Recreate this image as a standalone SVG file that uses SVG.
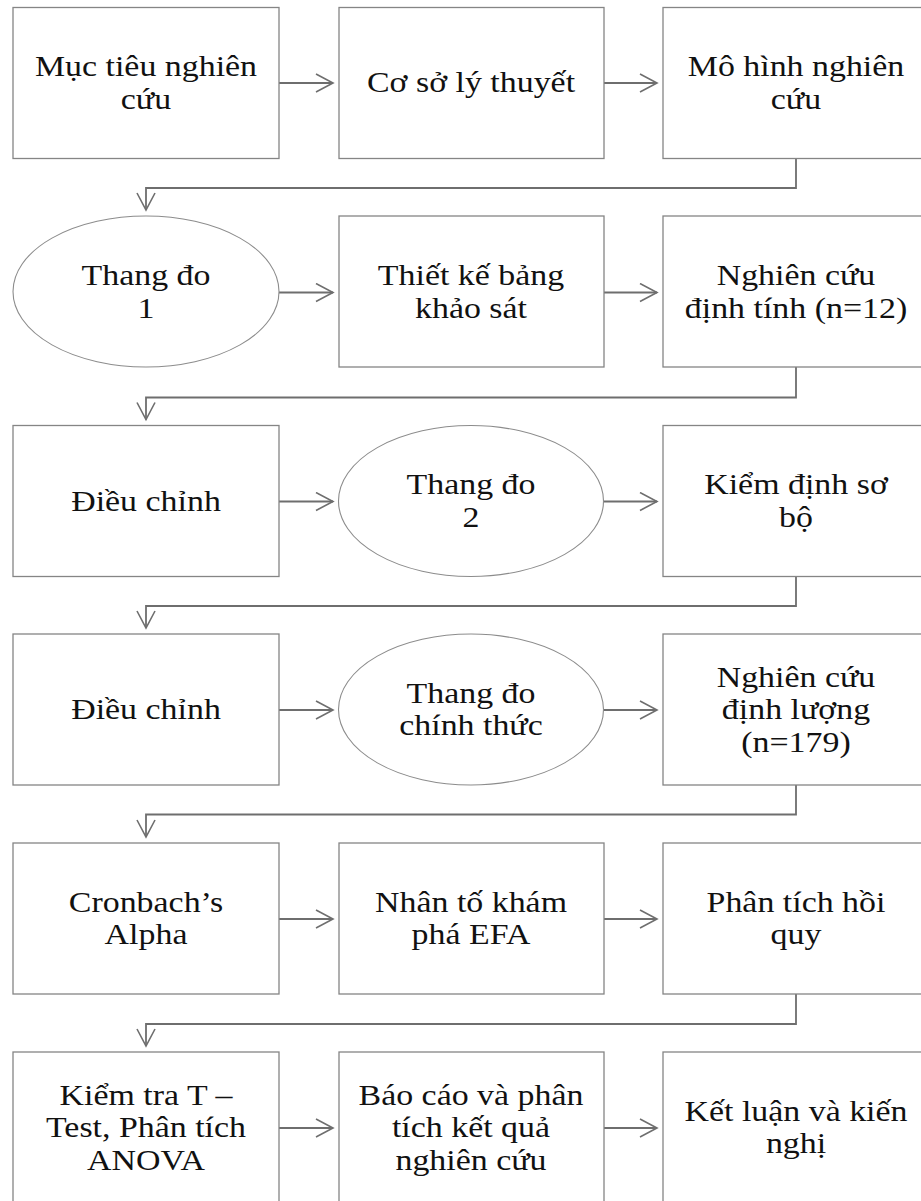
<svg xmlns="http://www.w3.org/2000/svg" width="921" height="1201" viewBox="0 0 921 1201">
  <style>
    .box { fill: #ffffff; stroke: #858585; stroke-width: 1.3; }
    .oval { fill: #ffffff; stroke: #8c8c8c; stroke-width: 1.1; }
    .lbl { font-family: "Liberation Serif", "Times New Roman", serif; font-size: 30px; fill: #111111; text-anchor: middle; }
    .wire { fill: none; stroke: #6e6e6e; stroke-width: 1.8; }
  </style>
  <defs>
    <marker id="chev" viewBox="0 0 20 20" refX="18" refY="10" markerWidth="20" markerHeight="20" markerUnits="userSpaceOnUse" orient="auto">
      <path d="M1 1 L18 10 L1 19" fill="none" stroke="#6e6e6e" stroke-width="1.6"/>
    </marker>
  </defs>
  <rect width="921" height="1201" fill="#ffffff"/>

  <!-- connectors -->
  <g id="connectors">
    <!-- row 1 -->
    <line class="wire" x1="279" y1="83" x2="333" y2="83" marker-end="url(#chev)"/>
    <line class="wire" x1="604" y1="83" x2="657" y2="83" marker-end="url(#chev)"/>
    <path class="wire" d="M796 158.5 V188 H146 V210" marker-end="url(#chev)"/>
    <!-- row 2 -->
    <line class="wire" x1="279" y1="292.5" x2="333" y2="292.5" marker-end="url(#chev)"/>
    <line class="wire" x1="604" y1="292.5" x2="657" y2="292.5" marker-end="url(#chev)"/>
    <path class="wire" d="M796 367 V397.5 H146 V419.5" marker-end="url(#chev)"/>
    <!-- row 3 -->
    <line class="wire" x1="279" y1="501.5" x2="333" y2="501.5" marker-end="url(#chev)"/>
    <line class="wire" x1="604" y1="501.5" x2="657" y2="501.5" marker-end="url(#chev)"/>
    <path class="wire" d="M796 576.5 V606 H146 V628" marker-end="url(#chev)"/>
    <!-- row 4 -->
    <line class="wire" x1="279" y1="710" x2="333" y2="710" marker-end="url(#chev)"/>
    <line class="wire" x1="604" y1="710" x2="657" y2="710" marker-end="url(#chev)"/>
    <path class="wire" d="M796 785 V814.5 H146 V837" marker-end="url(#chev)"/>
    <!-- row 5 -->
    <line class="wire" x1="279" y1="919" x2="333" y2="919" marker-end="url(#chev)"/>
    <line class="wire" x1="604" y1="919" x2="657" y2="919" marker-end="url(#chev)"/>
    <path class="wire" d="M796 994 V1024 H146 V1046" marker-end="url(#chev)"/>
    <!-- row 6 -->
    <line class="wire" x1="279" y1="1128" x2="333" y2="1128" marker-end="url(#chev)"/>
    <line class="wire" x1="604" y1="1128" x2="657" y2="1128" marker-end="url(#chev)"/>
  </g>

  <!-- row 1 -->
  <g id="muc-tieu">
    <rect class="box" x="13" y="7.5" width="266" height="151"/>
    <text class="lbl" transform="translate(146 0) scale(1.13 1)"><tspan x="0" y="76.5">Mục tiêu nghiên</tspan><tspan x="0" y="109">cứu</tspan></text>
  </g>
  <g id="co-so">
    <rect class="box" x="339" y="7.5" width="265" height="151"/>
    <text class="lbl" transform="translate(471 0) scale(1.13 1)"><tspan x="0" y="92.5">Cơ sở lý thuyết</tspan></text>
  </g>
  <g id="mo-hinh">
    <rect class="box" x="663" y="7.5" width="266" height="151"/>
    <text class="lbl" transform="translate(796 0) scale(1.13 1)"><tspan x="0" y="76.5">Mô hình nghiên</tspan><tspan x="0" y="109">cứu</tspan></text>
  </g>

  <!-- row 2 -->
  <g id="thang-do-1">
    <ellipse class="oval" cx="146" cy="291.5" rx="133" ry="75.5"/>
    <text class="lbl" transform="translate(146 0) scale(1.13 1)"><tspan x="0" y="285.5">Thang đo</tspan><tspan x="0" y="318">1</tspan></text>
  </g>
  <g id="thiet-ke">
    <rect class="box" x="339" y="216" width="265" height="151"/>
    <text class="lbl" transform="translate(471 0) scale(1.13 1)"><tspan x="0" y="285.5">Thiết kế bảng</tspan><tspan x="0" y="318">khảo sát</tspan></text>
  </g>
  <g id="dinh-tinh">
    <rect class="box" x="663" y="216" width="266" height="151"/>
    <text class="lbl" transform="translate(796 0) scale(1.13 1)"><tspan x="0" y="285.5">Nghiên cứu</tspan><tspan x="0" y="318">định tính (n=12)</tspan></text>
  </g>

  <!-- row 3 -->
  <g id="dieu-chinh-1">
    <rect class="box" x="13" y="425.5" width="266" height="151"/>
    <text class="lbl" transform="translate(146 0) scale(1.13 1)"><tspan x="0" y="511">Điều chỉnh</tspan></text>
  </g>
  <g id="thang-do-2">
    <ellipse class="oval" cx="471" cy="501" rx="132.5" ry="75.5"/>
    <text class="lbl" transform="translate(471 0) scale(1.13 1)"><tspan x="0" y="494.5">Thang đo</tspan><tspan x="0" y="527">2</tspan></text>
  </g>
  <g id="kiem-dinh">
    <rect class="box" x="663" y="425.5" width="266" height="151"/>
    <text class="lbl" transform="translate(796 0) scale(1.13 1)"><tspan x="0" y="494.5">Kiểm định sơ</tspan><tspan x="0" y="527">bộ</tspan></text>
  </g>

  <!-- row 4 -->
  <g id="dieu-chinh-2">
    <rect class="box" x="13" y="634" width="266" height="151"/>
    <text class="lbl" transform="translate(146 0) scale(1.13 1)"><tspan x="0" y="719.5">Điều chỉnh</tspan></text>
  </g>
  <g id="thang-do-chinh-thuc">
    <ellipse class="oval" cx="471" cy="709.5" rx="132.5" ry="75.5"/>
    <text class="lbl" transform="translate(471 0) scale(1.13 1)"><tspan x="0" y="703">Thang đo</tspan><tspan x="0" y="735.5">chính thức</tspan></text>
  </g>
  <g id="dinh-luong">
    <rect class="box" x="663" y="634" width="266" height="151"/>
    <text class="lbl" transform="translate(796 0) scale(1.13 1)"><tspan x="0" y="686.8">Nghiên cứu</tspan><tspan x="0" y="719.3">định lượng</tspan><tspan x="0" y="751.8">(n=179)</tspan></text>
  </g>

  <!-- row 5 -->
  <g id="cronbach">
    <rect class="box" x="13" y="843" width="266" height="151"/>
    <text class="lbl" transform="translate(146 0) scale(1.13 1)"><tspan x="0" y="912">Cronbach’s</tspan><tspan x="0" y="944.5">Alpha</tspan></text>
  </g>
  <g id="efa">
    <rect class="box" x="339" y="843" width="265" height="151"/>
    <text class="lbl" transform="translate(471 0) scale(1.13 1)"><tspan x="0" y="912">Nhân tố khám</tspan><tspan x="0" y="944.5">phá EFA</tspan></text>
  </g>
  <g id="hoi-quy">
    <rect class="box" x="663" y="843" width="266" height="151"/>
    <text class="lbl" transform="translate(796 0) scale(1.13 1)"><tspan x="0" y="912">Phân tích hồi</tspan><tspan x="0" y="944.5">quy</tspan></text>
  </g>

  <!-- row 6 -->
  <g id="anova">
    <rect class="box" x="13" y="1052" width="266" height="151"/>
    <text class="lbl" transform="translate(146 0) scale(1.13 1)"><tspan x="0" y="1104.8">Kiểm tra T –</tspan><tspan x="0" y="1137.3">Test, Phân tích</tspan><tspan x="0" y="1169.8">ANOVA</tspan></text>
  </g>
  <g id="bao-cao">
    <rect class="box" x="339" y="1052" width="265" height="151"/>
    <text class="lbl" transform="translate(471 0) scale(1.13 1)"><tspan x="0" y="1104.8">Báo cáo và phân</tspan><tspan x="0" y="1137.3">tích kết quả</tspan><tspan x="0" y="1169.8">nghiên cứu</tspan></text>
  </g>
  <g id="ket-luan">
    <rect class="box" x="663" y="1052" width="266" height="151"/>
    <text class="lbl" transform="translate(796 0) scale(1.13 1)"><tspan x="0" y="1121">Kết luận và kiến</tspan><tspan x="0" y="1153.5">nghị</tspan></text>
  </g>
</svg>
